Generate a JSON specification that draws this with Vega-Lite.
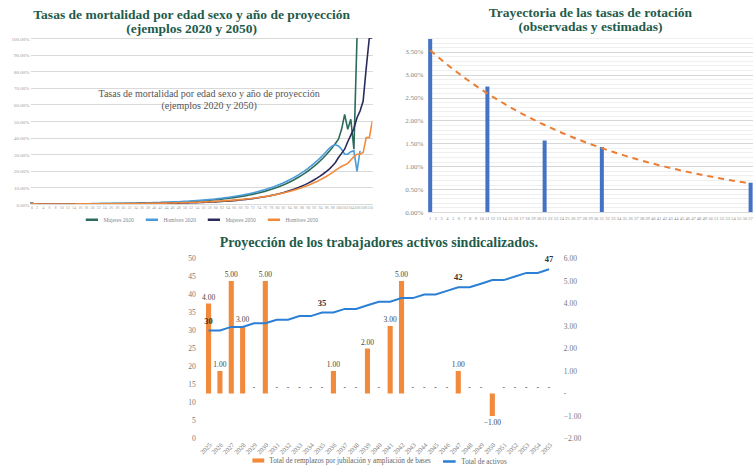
{
  "$schema": "https://vega.github.io/schema/vega-lite/v6.json",
  "padding": {"left": 10, "top": 5, "right": 0, "bottom": 0},
  "config": {
    "font": "Liberation Serif",
    "view": {"stroke": null},
    "legend": {"layout": {"bottom": {"anchor": "middle"}}},
    "title": {"font": "Liberation Serif", "fontWeight": "bold", "color": "#1f5b4b", "fontSize": 13.5, "lineHeight": 14, "anchor": "middle"}
  },
  "center": true,
  "spacing": 10.5,
  "resolve": {"scale": {"color": "independent", "fill": "independent", "stroke": "independent"}, "legend": {"color": "independent", "fill": "independent", "stroke": "independent"}},
  "vconcat": [
    {
      "spacing": 31.5,
      "resolve": {"scale": {"color": "independent"}, "legend": {"color": "independent"}},
      "hconcat": [
        {
          "width": 342,
          "height": 166,
          "title": {"text": ["Tasas de mortalidad por edad sexo y año de proyección", "(ejemplos 2020 y 2050)"], "offset": 1, "frame": "bounds"},
          "layer": [
            {
              "data": {"values": [
                {"edad": 0, "Mujeres 2020": 0.8, "Hombres 2020": 0.9, "Mujeres 2050": 0.4, "Hombres 2050": 0.6},
                {"edad": 1, "Mujeres 2020": 0.25, "Hombres 2020": 0.3, "Mujeres 2050": 0.1, "Hombres 2050": 0.15},
                {"edad": 2, "Mujeres 2020": 0.08, "Hombres 2020": 0.1, "Mujeres 2050": 0.04, "Hombres 2050": 0.05},
                {"edad": 3, "Mujeres 2020": 0.04, "Hombres 2020": 0.05, "Mujeres 2050": 0.02, "Hombres 2050": 0.03},
                {"edad": 4, "Mujeres 2020": 0.04, "Hombres 2020": 0.05, "Mujeres 2050": 0.02, "Hombres 2050": 0.03},
                {"edad": 5, "Mujeres 2020": 0.04, "Hombres 2020": 0.05, "Mujeres 2050": 0.02, "Hombres 2050": 0.03},
                {"edad": 6, "Mujeres 2020": 0.04, "Hombres 2020": 0.05, "Mujeres 2050": 0.02, "Hombres 2050": 0.03},
                {"edad": 7, "Mujeres 2020": 0.04, "Hombres 2020": 0.05, "Mujeres 2050": 0.02, "Hombres 2050": 0.03},
                {"edad": 8, "Mujeres 2020": 0.04, "Hombres 2020": 0.05, "Mujeres 2050": 0.02, "Hombres 2050": 0.03},
                {"edad": 9, "Mujeres 2020": 0.04, "Hombres 2020": 0.05, "Mujeres 2050": 0.02, "Hombres 2050": 0.03},
                {"edad": 10, "Mujeres 2020": 0.04, "Hombres 2020": 0.05, "Mujeres 2050": 0.02, "Hombres 2050": 0.03},
                {"edad": 11, "Mujeres 2020": 0.04, "Hombres 2020": 0.05, "Mujeres 2050": 0.02, "Hombres 2050": 0.03},
                {"edad": 12, "Mujeres 2020": 0.04, "Hombres 2020": 0.05, "Mujeres 2050": 0.02, "Hombres 2050": 0.03},
                {"edad": 13, "Mujeres 2020": 0.04, "Hombres 2020": 0.05, "Mujeres 2050": 0.02, "Hombres 2050": 0.03},
                {"edad": 14, "Mujeres 2020": 0.04, "Hombres 2020": 0.05, "Mujeres 2050": 0.02, "Hombres 2050": 0.03},
                {"edad": 15, "Mujeres 2020": 0.10, "Hombres 2020": 0.10, "Mujeres 2050": 0.06, "Hombres 2050": 0.09},
                {"edad": 16, "Mujeres 2020": 0.12, "Hombres 2020": 0.12, "Mujeres 2050": 0.06, "Hombres 2050": 0.09},
                {"edad": 17, "Mujeres 2020": 0.13, "Hombres 2020": 0.14, "Mujeres 2050": 0.06, "Hombres 2050": 0.09},
                {"edad": 18, "Mujeres 2020": 0.15, "Hombres 2020": 0.16, "Mujeres 2050": 0.06, "Hombres 2050": 0.09},
                {"edad": 19, "Mujeres 2020": 0.16, "Hombres 2020": 0.18, "Mujeres 2050": 0.06, "Hombres 2050": 0.09},
                {"edad": 20, "Mujeres 2020": 0.17, "Hombres 2020": 0.23, "Mujeres 2050": 0.07, "Hombres 2050": 0.11},
                {"edad": 21, "Mujeres 2020": 0.18, "Hombres 2020": 0.24, "Mujeres 2050": 0.08, "Hombres 2050": 0.12},
                {"edad": 22, "Mujeres 2020": 0.19, "Hombres 2020": 0.26, "Mujeres 2050": 0.08, "Hombres 2050": 0.13},
                {"edad": 23, "Mujeres 2020": 0.21, "Hombres 2020": 0.28, "Mujeres 2050": 0.09, "Hombres 2050": 0.14},
                {"edad": 24, "Mujeres 2020": 0.22, "Hombres 2020": 0.29, "Mujeres 2050": 0.09, "Hombres 2050": 0.15},
                {"edad": 25, "Mujeres 2020": 0.24, "Hombres 2020": 0.31, "Mujeres 2050": 0.10, "Hombres 2050": 0.16},
                {"edad": 26, "Mujeres 2020": 0.26, "Hombres 2020": 0.33, "Mujeres 2050": 0.10, "Hombres 2050": 0.17},
                {"edad": 27, "Mujeres 2020": 0.27, "Hombres 2020": 0.36, "Mujeres 2050": 0.11, "Hombres 2050": 0.18},
                {"edad": 28, "Mujeres 2020": 0.29, "Hombres 2020": 0.38, "Mujeres 2050": 0.12, "Hombres 2050": 0.19},
                {"edad": 29, "Mujeres 2020": 0.31, "Hombres 2020": 0.40, "Mujeres 2050": 0.13, "Hombres 2050": 0.20},
                {"edad": 30, "Mujeres 2020": 0.33, "Hombres 2020": 0.43, "Mujeres 2050": 0.14, "Hombres 2050": 0.22},
                {"edad": 31, "Mujeres 2020": 0.36, "Hombres 2020": 0.46, "Mujeres 2050": 0.15, "Hombres 2050": 0.23},
                {"edad": 32, "Mujeres 2020": 0.38, "Hombres 2020": 0.49, "Mujeres 2050": 0.16, "Hombres 2050": 0.25},
                {"edad": 33, "Mujeres 2020": 0.41, "Hombres 2020": 0.52, "Mujeres 2050": 0.17, "Hombres 2050": 0.26},
                {"edad": 34, "Mujeres 2020": 0.44, "Hombres 2020": 0.56, "Mujeres 2050": 0.18, "Hombres 2050": 0.28},
                {"edad": 35, "Mujeres 2020": 0.47, "Hombres 2020": 0.60, "Mujeres 2050": 0.20, "Hombres 2050": 0.30},
                {"edad": 36, "Mujeres 2020": 0.50, "Hombres 2020": 0.64, "Mujeres 2050": 0.21, "Hombres 2050": 0.32},
                {"edad": 37, "Mujeres 2020": 0.54, "Hombres 2020": 0.68, "Mujeres 2050": 0.23, "Hombres 2050": 0.34},
                {"edad": 38, "Mujeres 2020": 0.57, "Hombres 2020": 0.73, "Mujeres 2050": 0.25, "Hombres 2050": 0.37},
                {"edad": 39, "Mujeres 2020": 0.61, "Hombres 2020": 0.78, "Mujeres 2050": 0.27, "Hombres 2050": 0.39},
                {"edad": 40, "Mujeres 2020": 0.66, "Hombres 2020": 0.83, "Mujeres 2050": 0.29, "Hombres 2050": 0.42},
                {"edad": 41, "Mujeres 2020": 0.70, "Hombres 2020": 0.88, "Mujeres 2050": 0.31, "Hombres 2050": 0.45},
                {"edad": 42, "Mujeres 2020": 0.75, "Hombres 2020": 0.94, "Mujeres 2050": 0.34, "Hombres 2050": 0.48},
                {"edad": 43, "Mujeres 2020": 0.81, "Hombres 2020": 1.01, "Mujeres 2050": 0.36, "Hombres 2050": 0.51},
                {"edad": 44, "Mujeres 2020": 0.86, "Hombres 2020": 1.07, "Mujeres 2050": 0.39, "Hombres 2050": 0.54},
                {"edad": 45, "Mujeres 2020": 0.92, "Hombres 2020": 1.15, "Mujeres 2050": 0.42, "Hombres 2050": 0.58},
                {"edad": 46, "Mujeres 2020": 0.99, "Hombres 2020": 1.22, "Mujeres 2050": 0.45, "Hombres 2050": 0.62},
                {"edad": 47, "Mujeres 2020": 1.06, "Hombres 2020": 1.30, "Mujeres 2050": 0.49, "Hombres 2050": 0.66},
                {"edad": 48, "Mujeres 2020": 1.13, "Hombres 2020": 1.39, "Mujeres 2050": 0.53, "Hombres 2050": 0.71},
                {"edad": 49, "Mujeres 2020": 1.21, "Hombres 2020": 1.48, "Mujeres 2050": 0.57, "Hombres 2050": 0.76},
                {"edad": 50, "Mujeres 2020": 1.30, "Hombres 2020": 1.58, "Mujeres 2050": 0.61, "Hombres 2050": 0.81},
                {"edad": 51, "Mujeres 2020": 1.39, "Hombres 2020": 1.69, "Mujeres 2050": 0.66, "Hombres 2050": 0.86},
                {"edad": 52, "Mujeres 2020": 1.49, "Hombres 2020": 1.80, "Mujeres 2050": 0.71, "Hombres 2050": 0.92},
                {"edad": 53, "Mujeres 2020": 1.59, "Hombres 2020": 1.92, "Mujeres 2050": 0.77, "Hombres 2050": 0.98},
                {"edad": 54, "Mujeres 2020": 1.71, "Hombres 2020": 2.05, "Mujeres 2050": 0.83, "Hombres 2050": 1.05},
                {"edad": 55, "Mujeres 2020": 1.83, "Hombres 2020": 2.19, "Mujeres 2050": 0.89, "Hombres 2050": 1.12},
                {"edad": 56, "Mujeres 2020": 1.95, "Hombres 2020": 2.33, "Mujeres 2050": 0.96, "Hombres 2050": 1.20},
                {"edad": 57, "Mujeres 2020": 2.09, "Hombres 2020": 2.49, "Mujeres 2050": 1.04, "Hombres 2050": 1.28},
                {"edad": 58, "Mujeres 2020": 2.24, "Hombres 2020": 2.65, "Mujeres 2050": 1.12, "Hombres 2050": 1.37},
                {"edad": 59, "Mujeres 2020": 2.40, "Hombres 2020": 2.83, "Mujeres 2050": 1.21, "Hombres 2050": 1.46},
                {"edad": 60, "Mujeres 2020": 2.56, "Hombres 2020": 3.04, "Mujeres 2050": 1.30, "Hombres 2050": 1.56},
                {"edad": 61, "Mujeres 2020": 2.74, "Hombres 2020": 3.24, "Mujeres 2050": 1.41, "Hombres 2050": 1.66},
                {"edad": 62, "Mujeres 2020": 2.94, "Hombres 2020": 3.46, "Mujeres 2050": 1.51, "Hombres 2050": 1.78},
                {"edad": 63, "Mujeres 2020": 3.14, "Hombres 2020": 3.69, "Mujeres 2050": 1.63, "Hombres 2050": 1.90},
                {"edad": 64, "Mujeres 2020": 3.36, "Hombres 2020": 3.94, "Mujeres 2050": 1.76, "Hombres 2050": 2.03},
                {"edad": 65, "Mujeres 2020": 3.60, "Hombres 2020": 4.20, "Mujeres 2050": 1.90, "Hombres 2050": 2.17},
                {"edad": 66, "Mujeres 2020": 3.85, "Hombres 2020": 4.48, "Mujeres 2050": 2.05, "Hombres 2050": 2.31},
                {"edad": 67, "Mujeres 2020": 4.12, "Hombres 2020": 4.78, "Mujeres 2050": 2.21, "Hombres 2050": 2.47},
                {"edad": 68, "Mujeres 2020": 4.42, "Hombres 2020": 5.10, "Mujeres 2050": 2.38, "Hombres 2050": 2.64},
                {"edad": 69, "Mujeres 2020": 4.73, "Hombres 2020": 5.45, "Mujeres 2050": 2.57, "Hombres 2050": 2.82},
                {"edad": 70, "Mujeres 2020": 5.06, "Hombres 2020": 5.81, "Mujeres 2050": 2.77, "Hombres 2050": 3.01},
                {"edad": 71, "Mujeres 2020": 5.42, "Hombres 2020": 6.20, "Mujeres 2050": 2.98, "Hombres 2050": 3.21},
                {"edad": 72, "Mujeres 2020": 5.80, "Hombres 2020": 6.62, "Mujeres 2050": 3.21, "Hombres 2050": 3.43},
                {"edad": 73, "Mujeres 2020": 6.21, "Hombres 2020": 7.06, "Mujeres 2050": 3.46, "Hombres 2050": 3.66},
                {"edad": 74, "Mujeres 2020": 6.64, "Hombres 2020": 7.54, "Mujeres 2050": 3.73, "Hombres 2050": 3.91},
                {"edad": 75, "Mujeres 2020": 7.11, "Hombres 2020": 8.05, "Mujeres 2050": 4.03, "Hombres 2050": 4.18},
                {"edad": 76, "Mujeres 2020": 7.61, "Hombres 2020": 8.58, "Mujeres 2050": 4.34, "Hombres 2050": 4.46},
                {"edad": 77, "Mujeres 2020": 8.15, "Hombres 2020": 9.16, "Mujeres 2050": 4.68, "Hombres 2050": 4.76},
                {"edad": 78, "Mujeres 2020": 8.72, "Hombres 2020": 9.78, "Mujeres 2050": 5.04, "Hombres 2050": 5.09},
                {"edad": 79, "Mujeres 2020": 9.34, "Hombres 2020": 10.43, "Mujeres 2050": 5.44, "Hombres 2050": 5.43},
                {"edad": 80, "Mujeres 2020": 9.99, "Hombres 2020": 11.13, "Mujeres 2050": 5.86, "Hombres 2050": 5.80},
                {"edad": 81, "Mujeres 2020": 10.70, "Hombres 2020": 11.88, "Mujeres 2050": 6.32, "Hombres 2050": 6.19},
                {"edad": 82, "Mujeres 2020": 11.45, "Hombres 2020": 12.68, "Mujeres 2050": 6.81, "Hombres 2050": 6.61},
                {"edad": 83, "Mujeres 2020": 12.26, "Hombres 2020": 13.53, "Mujeres 2050": 7.35, "Hombres 2050": 7.06},
                {"edad": 84, "Mujeres 2020": 13.12, "Hombres 2020": 14.44, "Mujeres 2050": 7.92, "Hombres 2050": 7.54},
                {"edad": 85, "Mujeres 2020": 14.04, "Hombres 2020": 15.41, "Mujeres 2050": 8.54, "Hombres 2050": 8.05},
                {"edad": 86, "Mujeres 2020": 15.03, "Hombres 2020": 16.44, "Mujeres 2050": 9.20, "Hombres 2050": 8.60},
                {"edad": 87, "Mujeres 2020": 16.09, "Hombres 2020": 17.55, "Mujeres 2050": 9.92, "Hombres 2050": 9.18},
                {"edad": 88, "Mujeres 2020": 17.22, "Hombres 2020": 18.73, "Mujeres 2050": 10.69, "Hombres 2050": 9.81},
                {"edad": 89, "Mujeres 2020": 18.43, "Hombres 2020": 19.98, "Mujeres 2050": 11.52, "Hombres 2050": 10.47},
                {"edad": 90, "Mujeres 2020": 19.73, "Hombres 2020": 21.33, "Mujeres 2050": 12.42, "Hombres 2050": 11.18},
                {"edad": 91, "Mujeres 2020": 21.12, "Hombres 2020": 22.76, "Mujeres 2050": 13.39, "Hombres 2050": 11.94},
                {"edad": 92, "Mujeres 2020": 22.61, "Hombres 2020": 24.29, "Mujeres 2050": 14.43, "Hombres 2050": 12.75},
                {"edad": 93, "Mujeres 2020": 24.20, "Hombres 2020": 25.92, "Mujeres 2050": 15.56, "Hombres 2050": 13.61},
                {"edad": 94, "Mujeres 2020": 25.90, "Hombres 2020": 27.66, "Mujeres 2050": 16.77, "Hombres 2050": 14.54},
                {"edad": 95, "Mujeres 2020": 27.73, "Hombres 2020": 29.52, "Mujeres 2050": 18.07, "Hombres 2050": 15.52},
                {"edad": 96, "Mujeres 2020": 29.68, "Hombres 2020": 31.50, "Mujeres 2050": 19.48, "Hombres 2050": 16.57},
                {"edad": 97, "Mujeres 2020": 31.77, "Hombres 2020": 33.60, "Mujeres 2050": 21.00, "Hombres 2050": 17.70},
                {"edad": 98, "Mujeres 2020": 34.00, "Hombres 2020": 35.00, "Mujeres 2050": 22.90, "Hombres 2050": 18.90},
                {"edad": 99, "Mujeres 2020": 36.40, "Hombres 2020": 35.70, "Mujeres 2050": 25.00, "Hombres 2050": 20.20},
                {"edad": 100, "Mujeres 2020": 39.00, "Hombres 2020": 35.00, "Mujeres 2050": 28.00, "Hombres 2050": 21.50},
                {"edad": 101, "Mujeres 2020": 45.00, "Hombres 2020": 33.00, "Mujeres 2050": 30.50, "Hombres 2050": 22.70},
                {"edad": 102, "Mujeres 2020": 54.00, "Hombres 2020": 30.00, "Mujeres 2050": 33.00, "Hombres 2050": 23.50},
                {"edad": 103, "Mujeres 2020": 45.00, "Hombres 2020": 30.00, "Mujeres 2050": 37.50, "Hombres 2050": 24.50},
                {"edad": 104, "Mujeres 2020": 51.00, "Hombres 2020": 31.50, "Mujeres 2050": 41.50, "Hombres 2050": 26.50},
                {"edad": 105, "Mujeres 2020": 33.00, "Hombres 2020": 32.00, "Mujeres 2050": 45.50, "Hombres 2050": 28.50},
                {"edad": 106, "Mujeres 2020": 100, "Hombres 2020": 19.70, "Mujeres 2050": 52.00, "Hombres 2050": 30.00},
                {"edad": 107, "Hombres 2020": 32.00, "Mujeres 2050": 56.00, "Hombres 2050": 30.00},
                {"edad": 108, "Mujeres 2050": 62.00, "Hombres 2050": 31.00},
                {"edad": 109, "Mujeres 2050": 82.00, "Hombres 2050": 40.00},
                {"edad": 110, "Mujeres 2050": 100, "Hombres 2050": 40.00},
                {"edad": 111, "Mujeres 2050": 100, "Hombres 2050": 50.00}
              ]},
              "transform": [{"fold": ["Mujeres 2020", "Hombres 2020", "Mujeres 2050", "Hombres 2050"], "as": ["serie", "tasa"]}],
              "mark": {"type": "line", "strokeWidth": 1.6, "clip": true},
              "encoding": {
                "x": {"field": "edad", "type": "quantitative", "scale": {"domain": [0, 111], "nice": false},
                      "axis": {"title": null, "tickCount": 56, "grid": false, "ticks": false, "domain": false, "labelFontSize": 4, "labelColor": "#999", "labelPadding": 1, "labelOverlap": false}},
                "y": {"field": "tasa", "type": "quantitative", "scale": {"domain": [0, 100], "nice": false},
                      "axis": {"title": null, "values": [0, 10, 20, 30, 40, 50, 60, 70, 80, 90, 100], "tickCount": 100, "labelExpr": "format(datum.value, '.2f') + '%'", "labelFontSize": 5, "labelColor": "#999", "gridColor": "#d9d9d9", "domain": false, "ticks": false, "labelPadding": 1.5, "labelOverlap": false}},
                "color": {"field": "serie", "type": "nominal",
                          "scale": {"domain": ["Mujeres 2020", "Hombres 2020", "Mujeres 2050", "Hombres 2050"], "range": ["#2c6b5b", "#4a9bd8", "#2a2b5c", "#f28a3c"]},
                          "legend": {"orient": "bottom", "direction": "horizontal", "title": null, "symbolType": "stroke", "symbolStrokeWidth": 2.5, "symbolSize": 150, "labelFontSize": 5.5, "labelColor": "#888", "columnPadding": 6, "offset": 3, "padding": 0}}
              }
            },
            {
              "data": {"values": [{}]},
              "mark": {"type": "text", "fontSize": 10, "color": "#555", "lineHeight": 12, "align": "center"},
              "encoding": {
                "x": {"datum": 58},
                "y": {"datum": 66},
                "text": {"value": ["Tasas de mortalidad por edad sexo y año de proyección", "(ejemplos 2020 y 2050)"]}
              }
            }
          ]
        },
        {
          "width": 325,
          "height": 174,
          "title": {"text": ["Trayectoria de las tasas de rotación", "(observadas y estimadas)"], "offset": 1},
          "data": {"values": [
            {"t": 1, "obs": 3.78, "est": 3.530}, {"t": 2, "est": 3.422}, {"t": 3, "est": 3.318}, {"t": 4, "est": 3.217},
            {"t": 5, "est": 3.119}, {"t": 6, "est": 3.024}, {"t": 7, "est": 2.931}, {"t": 8, "est": 2.842},
            {"t": 9, "est": 2.755}, {"t": 10, "est": 2.671}, {"t": 11, "obs": 2.74, "est": 2.590}, {"t": 12, "est": 2.511},
            {"t": 13, "est": 2.434}, {"t": 14, "est": 2.360}, {"t": 15, "est": 2.288}, {"t": 16, "est": 2.218},
            {"t": 17, "est": 2.150}, {"t": 18, "est": 2.085}, {"t": 19, "est": 2.021}, {"t": 20, "est": 1.960},
            {"t": 21, "obs": 1.56, "est": 1.900}, {"t": 22, "est": 1.842}, {"t": 23, "est": 1.786}, {"t": 24, "est": 1.731},
            {"t": 25, "est": 1.678}, {"t": 26, "est": 1.627}, {"t": 27, "est": 1.578}, {"t": 28, "est": 1.530},
            {"t": 29, "est": 1.483}, {"t": 30, "est": 1.438}, {"t": 31, "obs": 1.42, "est": 1.394}, {"t": 32, "est": 1.351},
            {"t": 33, "est": 1.310}, {"t": 34, "est": 1.270}, {"t": 35, "est": 1.231}, {"t": 36, "est": 1.194},
            {"t": 37, "est": 1.157}, {"t": 38, "est": 1.122}, {"t": 39, "est": 1.088}, {"t": 40, "est": 1.055},
            {"t": 41, "est": 1.022}, {"t": 42, "est": 0.991}, {"t": 43, "est": 0.961}, {"t": 44, "est": 0.932},
            {"t": 45, "est": 0.903}, {"t": 46, "est": 0.876}, {"t": 47, "est": 0.849}, {"t": 48, "est": 0.823},
            {"t": 49, "est": 0.798}, {"t": 50, "est": 0.774}, {"t": 51, "est": 0.750}, {"t": 52, "est": 0.727},
            {"t": 53, "est": 0.705}, {"t": 54, "est": 0.683}, {"t": 55, "est": 0.663}, {"t": 56, "est": 0.642},
            {"t": 57, "obs": 0.64, "est": 0.623}
          ]},
          "layer": [
            {
              "mark": {"type": "bar", "color": "#4472c4"},
              "encoding": {
                "x": {"field": "t", "type": "ordinal", "scale": {"paddingInner": 0.3, "paddingOuter": 0.05},
                      "axis": {"title": null, "labelAngle": 0, "labelFontSize": 4.5, "labelColor": "#888", "ticks": false, "domainColor": "#d9d9d9", "labelOverlap": false, "labelPadding": 3}},
                "y": {"field": "obs", "type": "quantitative", "scale": {"domain": [0, 3.8], "nice": false},
                      "axis": {"title": null,
                               "values": [0, 0.1, 0.2, 0.3, 0.4, 0.5, 0.6, 0.7, 0.8, 0.9, 1, 1.1, 1.2, 1.3, 1.4, 1.5, 1.6, 1.7, 1.8, 1.9, 2, 2.1, 2.2, 2.3, 2.4, 2.5, 2.6, 2.7, 2.8, 2.9, 3, 3.1, 3.2, 3.3, 3.4, 3.5, 3.6, 3.7, 3.8],
                               "tickCount": 100,
                               "labelExpr": "round(datum.value * 100) % 50 == 0 ? format(datum.value, '.2f') + '%' : ''",
                               "gridColor": {"condition": {"test": "round(datum.value * 100) % 50 == 0", "value": "#d6d6d6"}, "value": "#efefef"},
                               "labelFontSize": 7, "labelColor": "#888", "domain": false, "ticks": false, "labelPadding": 5, "labelOverlap": false}}
              }
            },
            {
              "mark": {"type": "line", "color": "#ed7d31", "strokeDash": [6, 5], "strokeWidth": 2},
              "encoding": {
                "x": {"field": "t", "type": "ordinal"},
                "y": {"field": "est", "type": "quantitative"}
              }
            }
          ]
        }
      ]
    },
    {
      "width": 349,
      "height": 180,
      "title": {"text": "Proyección de los trabajadores activos sindicalizados.", "offset": 4.5, "fontSize": 14},
      "data": {"values": [
        {"anio": 2025, "remplazos": 4, "activos": 30},
        {"anio": 2026, "remplazos": 1, "activos": 30},
        {"anio": 2027, "remplazos": 5, "activos": 31},
        {"anio": 2028, "remplazos": 3, "activos": 31},
        {"anio": 2029, "remplazos": 0, "activos": 32},
        {"anio": 2030, "remplazos": 5, "activos": 32},
        {"anio": 2031, "remplazos": 0, "activos": 33},
        {"anio": 2032, "remplazos": 0, "activos": 33},
        {"anio": 2033, "remplazos": 0, "activos": 34},
        {"anio": 2034, "remplazos": 0, "activos": 34},
        {"anio": 2035, "remplazos": 0, "activos": 35},
        {"anio": 2036, "remplazos": 1, "activos": 35},
        {"anio": 2037, "remplazos": 0, "activos": 36},
        {"anio": 2038, "remplazos": 0, "activos": 36},
        {"anio": 2039, "remplazos": 2, "activos": 37},
        {"anio": 2040, "remplazos": 0, "activos": 38},
        {"anio": 2041, "remplazos": 3, "activos": 38},
        {"anio": 2042, "remplazos": 5, "activos": 39},
        {"anio": 2043, "remplazos": 0, "activos": 39},
        {"anio": 2044, "remplazos": 0, "activos": 40},
        {"anio": 2045, "remplazos": 0, "activos": 40},
        {"anio": 2046, "remplazos": 0, "activos": 41},
        {"anio": 2047, "remplazos": 1, "activos": 42},
        {"anio": 2048, "remplazos": 0, "activos": 42},
        {"anio": 2049, "remplazos": 0, "activos": 43},
        {"anio": 2050, "remplazos": -1, "activos": 44},
        {"anio": 2051, "remplazos": 0, "activos": 44},
        {"anio": 2052, "remplazos": 0, "activos": 45},
        {"anio": 2053, "remplazos": 0, "activos": 46},
        {"anio": 2054, "remplazos": 0, "activos": 46},
        {"anio": 2055, "remplazos": 0, "activos": 47}
      ]},
      "encoding": {
        "x": {"field": "anio", "type": "ordinal", "scale": {"paddingInner": 0.55, "paddingOuter": 0.15},
              "axis": {"title": null, "labelAngle": -45, "labelFontSize": 6.5, "labelColor": "#777", "ticks": false, "domain": false, "labelPadding": 3}}
      },
      "layer": [
        {
          "layer": [
            {
              "mark": {"type": "bar"},
              "encoding": {
                "y": {"field": "remplazos", "type": "quantitative", "scale": {"domain": [-2, 6], "nice": false},
                      "axis": {"orient": "right", "title": null, "values": [-2, -1, 0, 1, 2, 3, 4, 5, 6], "tickCount": 100, "labelExpr": "datum.value == 0 ? '-' : format(datum.value, '.2f')", "grid": false, "domain": false, "ticks": false, "labelFontSize": 7.5, "labelColor": "#777", "labelPadding": 10, "labelAlign": "left", "labelOverlap": false}},
                "fill": {"datum": "Total de remplazos por jubilación y ampliación  de bases", "type": "nominal",
                         "scale": {"range": ["#f28a3c"]},
                         "legend": {"orient": "bottom", "title": null, "symbolType": "M-1,-0.35H1V0.35H-1Z", "symbolSize": 140, "labelFontSize": 7.2, "labelColor": "#666", "labelLimit": 400, "offset": -2, "padding": 0}}
              }
            },
            {
              "transform": [{"filter": "datum.remplazos >= 0"}],
              "mark": {"type": "text", "baseline": "bottom", "dy": -2, "fontSize": 7.5, "color": "#444"},
              "encoding": {
                "y": {"field": "remplazos", "type": "quantitative"},
                "text": {"condition": {"test": "datum.remplazos == 0", "value": "-"}, "field": "remplazos", "type": "quantitative", "format": ".2f"}
              }
            },
            {
              "transform": [{"filter": "datum.remplazos < 0"}],
              "mark": {"type": "text", "baseline": "top", "dy": 3, "fontSize": 7.5, "color": "#444"},
              "encoding": {
                "y": {"field": "remplazos", "type": "quantitative"},
                "text": {"field": "remplazos", "type": "quantitative", "format": ".2f"}
              }
            }
          ]
        },
        {
          "layer": [
            {
              "mark": {"type": "line", "strokeWidth": 2},
              "encoding": {
                "y": {"field": "activos", "type": "quantitative", "scale": {"domain": [0, 50], "nice": false},
                      "axis": {"orient": "left", "title": " ", "titleFontSize": 10, "titlePadding": 18.5, "values": [0, 5, 10, 15, 20, 25, 30, 35, 40, 45, 50], "tickCount": 100, "format": "d", "gridColor": "#d9d9d9", "domain": false, "ticks": false, "labelFontSize": 7.5, "labelColor": "#777", "labelPadding": 9, "labelOverlap": false}},
                "stroke": {"datum": "Total de activos", "type": "nominal",
                           "scale": {"range": ["#2b7fd4"]},
                           "legend": {"orient": "bottom", "title": null, "symbolType": "stroke", "symbolStrokeWidth": 2.5, "symbolSize": 160, "labelFontSize": 7.2, "labelColor": "#666", "labelLimit": 400, "offset": -2, "padding": 0}}
              }
            },
            {
              "transform": [{"filter": {"field": "anio", "oneOf": [2025, 2035, 2047, 2055]}}],
              "mark": {"type": "text", "baseline": "bottom", "dy": -5, "fontSize": 8.5, "fontWeight": "bold", "color": "#333"},
              "encoding": {
                "y": {"field": "activos", "type": "quantitative"},
                "text": {"field": "activos", "type": "quantitative"}
              }
            }
          ]
        }
      ],
      "resolve": {"scale": {"y": "independent", "fill": "independent", "stroke": "independent"}}
    }
  ]
}
